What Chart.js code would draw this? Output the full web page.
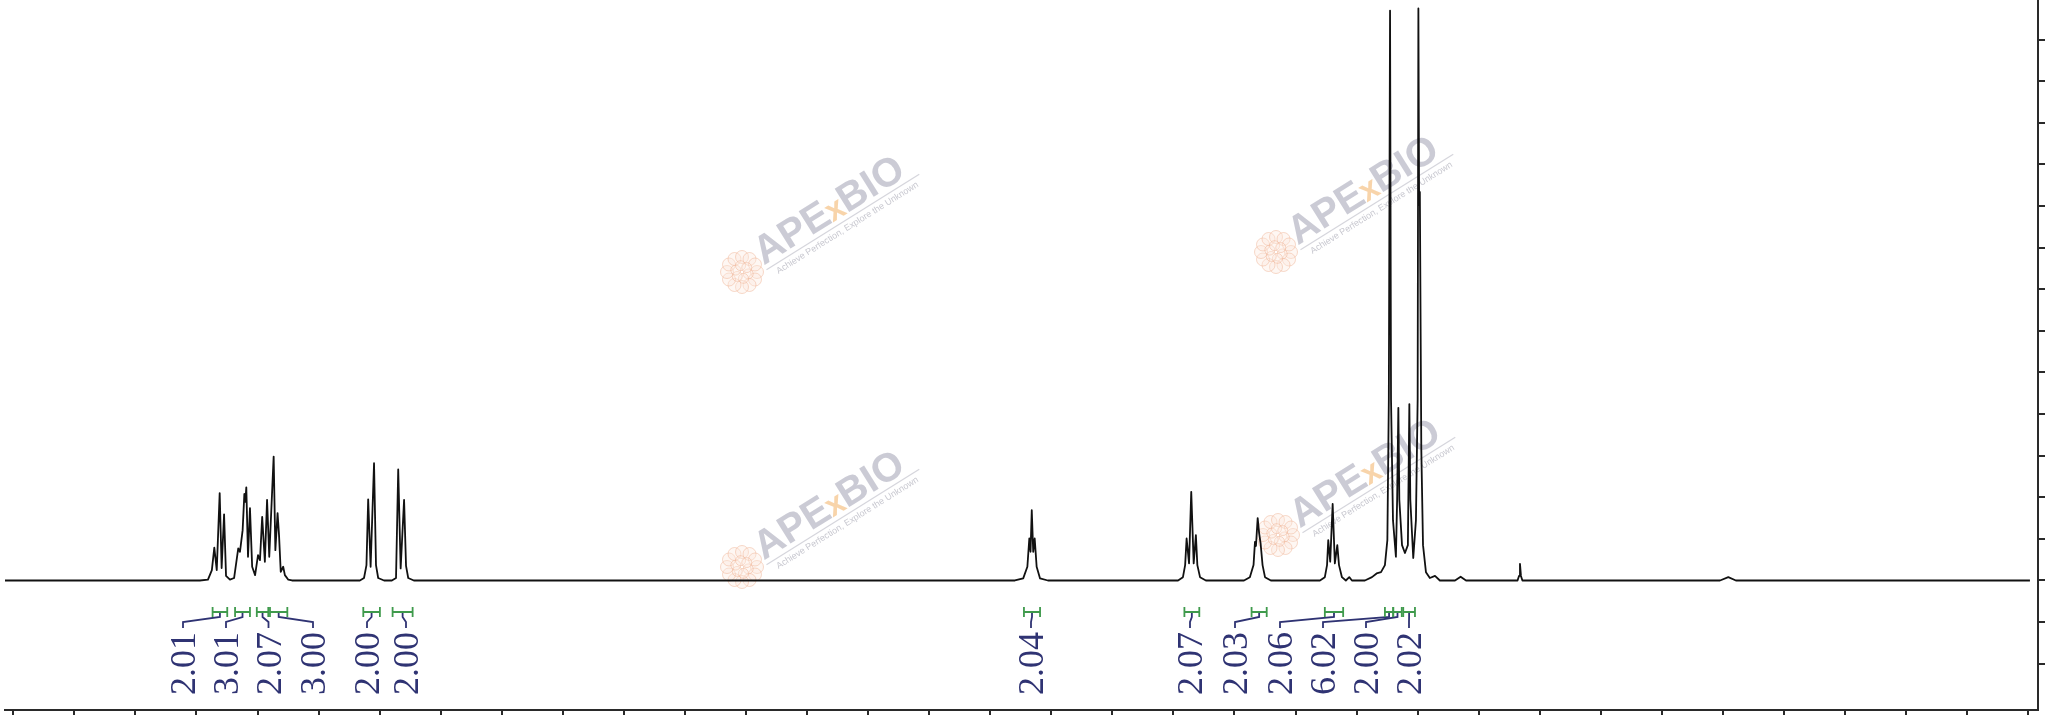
<!DOCTYPE html>
<html>
<head>
<meta charset="utf-8">
<script src="https://cdn.jsdelivr.net/npm/chart.js@4.4.1/dist/chart.umd.min.js"></script>
<style>
  html, body { margin: 0; padding: 0; background: #ffffff; }
  #wrap { width: 2045px; height: 715px; }
</style>
</head>
<body>
<div id="wrap"><canvas id="c" width="2045" height="715"></canvas></div>
<script>
// ---------- DATA ----------
// chemical shift (ppm), left to right
const shiftPpm = [
  8.784, 7.986, 7.953, 7.937, 7.927, 7.917, 7.905, 7.897, 7.887, 7.879, 7.863,
  7.846, 7.829, 7.822, 7.811, 7.804, 7.800, 7.796, 7.789, 7.781, 7.772, 7.760,
  7.748, 7.740, 7.731, 7.720, 7.711, 7.702, 7.684, 7.677, 7.668, 7.662, 7.655,
  7.645, 7.638, 7.624, 7.609,
  7.331, 7.314, 7.304, 7.297, 7.287, 7.273, 7.265, 7.256, 7.232,
  7.200, 7.183, 7.174, 7.164, 7.150, 7.142, 7.133, 7.110,
  4.649, 4.615, 4.598, 4.590, 4.585, 4.580, 4.574, 4.568, 4.560, 4.546, 4.514,
  3.981, 3.961, 3.952, 3.946, 3.936, 3.927, 3.917, 3.908, 3.902, 3.891, 3.867,
  3.711, 3.687, 3.672, 3.666, 3.662, 3.655, 3.649, 3.643, 3.635, 3.625, 3.601,
  3.400, 3.380, 3.371, 3.366, 3.358, 3.348, 3.339, 3.329, 3.322, 3.310, 3.294, 3.280, 3.269,
  3.216, 3.187, 3.168, 3.150, 3.134, 3.124, 3.118, 3.113, 3.109, 3.101, 3.089,
  3.084, 3.079, 3.075, 3.064, 3.052, 3.040, 3.034, 3.030, 3.018, 3.007, 3.000,
  2.997, 2.994, 2.991, 2.985, 2.978, 2.966, 2.950, 2.929, 2.909,
  2.847, 2.824, 2.802,
  2.591, 2.585, 2.581, 2.577, 2.571,
  1.762, 1.728, 1.697, 0.493
];
// signal intensity (arbitrary units), same order
const intensity = [
  0, 0, 0.02, 0.25, 0.79, 0.25, 2.10, 0.30, 1.59, 0.11, 0.02,
  0.06, 0.77, 0.69, 1.21, 2.08, 1.89, 2.24, 0.57, 1.74, 0.33, 0.13,
  0.61, 0.49, 1.53, 0.45, 1.94, 0.57, 2.98, 0.73, 1.62, 1.09, 0.21,
  0.33, 0.13, 0.02, 0,
  0, 0.06, 0.37, 1.95, 0.33, 2.82, 0.37, 0.06, 0,
  0, 0.06, 2.67, 0.29, 1.94, 0.35, 0.06, 0,
  0, 0.05, 0.33, 1.01, 0.69, 1.69, 0.69, 1.01, 0.33, 0.05, 0,
  0, 0.08, 0.37, 1.01, 0.41, 2.13, 0.41, 1.09, 0.37, 0.08, 0,
  0, 0.08, 0.37, 0.93, 0.83, 1.50, 1.14, 0.89, 0.37, 0.08, 0,
  0, 0.08, 0.37, 0.97, 0.45, 1.84, 0.41, 0.85, 0.37, 0.08, 0, 0.08, 0,
  0, 0.08, 0.17, 0.20, 0.37, 0.97, 4.34, 13.70, 4.34, 1.45, 0.57,
  1.94, 4.15, 1.94, 0.85, 0.66, 0.85, 4.24, 1.94, 0.54, 1.45, 4.34,
  13.75, 9.03, 9.34, 3.14, 0.85, 0.20, 0.06, 0.11, 0,
  0, 0.09, 0,
  0, 0.11, 0.40, 0.11, 0,
  0, 0.08, 0, 0
];
// integral regions (ppm) and their values
const integralFrom   = [7.934, 7.842, 7.753, 7.699, 7.317, 7.197, 4.612, 3.955, 3.680, 3.380, 3.134, 3.100, 3.059];
const integralTo     = [7.874, 7.781, 7.706, 7.628, 7.249, 7.115, 4.546, 3.894, 3.618, 3.305, 3.100, 3.065, 3.011];
const integralLabels = ['2.01', '3.01', '2.07', '3.00', '2.00', '2.00', '2.04', '2.07', '2.03', '2.06', '6.02', '2.00', '2.02'];
// axis tick values
const xTickValues = [8.75, 8.5, 8.25, 8.0, 7.75, 7.5, 7.25, 7.0, 6.75, 6.5, 6.25, 6.0, 5.75, 5.5, 5.25, 5.0,
  4.75, 4.5, 4.25, 4.0, 3.75, 3.5, 3.25, 3.0, 2.75, 2.5, 2.25, 2.0, 1.75, 1.5, 1.25, 1.0, 0.75, 0.5];
const yTickValues = [-2, -1, 0, 1, 2, 3, 4, 5, 6, 7, 8, 9, 10, 11, 12, 13];

// ---------- LAYOUT / STYLE ----------
const integralLabelPx = [183, 226, 268.5, 313, 367, 406, 1031, 1190, 1235, 1280, 1323, 1366, 1409];
const BRACKET_Y = 612, LABEL_END_Y = 632;
const GREEN = '#3f9a4c', NAVY = '#2f3373', AXIS = '#2a2a2a';
const logoCenters = [[742, 272], [1276, 252], [742, 567], [1278, 535]];

const watermarkPlugin = {
  id: 'watermark',
  beforeDatasetsDraw(chart) {
    const ctx = chart.ctx;
    logoCenters.forEach(([fx, fy]) => {
      ctx.save();
      ctx.translate(fx, fy);
      // flower
      ctx.lineWidth = 1;
      ctx.strokeStyle = 'rgba(240,180,150,0.5)';
      ctx.fillStyle = 'rgba(252,232,220,0.35)';
      for (let k = 0; k < 12; k++) {
        const a = k * Math.PI / 6;
        ctx.beginPath(); ctx.arc(15 * Math.cos(a), 15 * Math.sin(a), 6.5, 0, 2 * Math.PI); ctx.fill(); ctx.stroke();
      }
      for (let k = 0; k < 6; k++) {
        const a = k * Math.PI / 3 + 0.3;
        ctx.beginPath(); ctx.arc(6.5 * Math.cos(a), 6.5 * Math.sin(a), 5, 0, 2 * Math.PI); ctx.fill(); ctx.stroke();
      }
      ctx.rotate(-32 * Math.PI / 180);
      ctx.textBaseline = 'alphabetic';
      ctx.textAlign = 'left';
      let x = 22;
      const parts = [['APE', 'rgba(190,190,202,0.8)', 40], ['x', 'rgba(247,205,155,0.85)', 32], ['BIO', 'rgba(190,190,202,0.8)', 40]];
      parts.forEach(([t, c, fs]) => {
        ctx.fillStyle = c;
        ctx.font = 'bold ' + fs + 'px "Liberation Sans", Arial, sans-serif';
        ctx.fillText(t, x, 6);
        x += ctx.measureText(t).width - 1;
      });
      ctx.strokeStyle = 'rgba(195,195,205,0.7)';
      ctx.lineWidth = 1.2;
      ctx.beginPath(); ctx.moveTo(22, 11); ctx.lineTo(x + 12, 11); ctx.stroke();
      ctx.fillStyle = 'rgba(185,185,195,0.8)';
      ctx.font = '9px "Liberation Sans", Arial, sans-serif';
      ctx.fillText('Achieve Perfection, Explore the Unknown', 30, 21);
      ctx.restore();
    });
  }
};

const integralPlugin = {
  id: 'integrals',
  afterDatasetsDraw(chart) {
    const ctx = chart.ctx;
    const xs = chart.scales.x;
    ctx.save();
    integralLabels.forEach((lab, i) => {
      const x1 = xs.getPixelForValue(integralFrom[i]);
      const x2 = xs.getPixelForValue(integralTo[i]);
      const cx = (x1 + x2) / 2;
      const lx = integralLabelPx[i];
      // leader line
      ctx.strokeStyle = NAVY;
      ctx.lineWidth = 1.8;
      ctx.beginPath();
      ctx.moveTo(cx, BRACKET_Y + 1);
      ctx.lineTo(cx, BRACKET_Y + 5);
      ctx.lineTo(lx, BRACKET_Y + 10);
      ctx.lineTo(lx, BRACKET_Y + 16);
      ctx.stroke();
      // green bracket
      ctx.strokeStyle = GREEN;
      ctx.lineWidth = 1.8;
      ctx.beginPath();
      ctx.moveTo(x1, BRACKET_Y); ctx.lineTo(x2, BRACKET_Y);
      ctx.moveTo(x1, BRACKET_Y - 5); ctx.lineTo(x1, BRACKET_Y + 5);
      ctx.moveTo(x2, BRACKET_Y - 5); ctx.lineTo(x2, BRACKET_Y + 5);
      ctx.stroke();
      // value label (rotated)
      ctx.save();
      ctx.translate(lx, LABEL_END_Y);
      ctx.rotate(-Math.PI / 2);
      ctx.fillStyle = NAVY;
      ctx.font = '36px "Liberation Serif", "Times New Roman", serif';
      ctx.textAlign = 'right';
      ctx.textBaseline = 'alphabetic';
      ctx.fillText(lab, 0, 12);
      ctx.restore();
    });
    ctx.restore();
  }
};

const points = shiftPpm.map((p, i) => ({ x: p, y: intensity[i] }));

new Chart(document.getElementById('c'), {
  type: 'line',
  data: {
    datasets: [{
      data: points,
      borderColor: '#111111',
      borderWidth: 1.8,
      borderJoinStyle: 'round',
      pointRadius: 0,
      tension: 0,
      fill: false
    }]
  },
  options: {
    responsive: false,
    devicePixelRatio: 1,
    animation: false,
    layout: { padding: { left: 5, top: 0, right: 0, bottom: 0 } },
    plugins: { legend: { display: false }, tooltip: { enabled: false } },
    scales: {
      x: {
        type: 'linear',
        position: 'bottom',
        reverse: true,
        min: 0.460,
        max: 8.784,
        afterBuildTicks: (s) => { s.ticks = xTickValues.map(v => ({ value: v })); },
        ticks: { display: false },
        grid: { drawOnChartArea: false, drawTicks: true, tickLength: 5, color: AXIS, lineWidth: 2 },
        border: { display: true, color: AXIS, width: 2 }
      },
      y: {
        type: 'linear',
        position: 'right',
        min: -3.113,
        max: 13.954,
        afterBuildTicks: (s) => { s.ticks = yTickValues.map(v => ({ value: v })); },
        ticks: { display: false },
        grid: { drawOnChartArea: false, drawTicks: true, tickLength: 7, color: AXIS, lineWidth: 2 },
        border: { display: true, color: AXIS, width: 2 }
      }
    }
  },
  plugins: [watermarkPlugin, integralPlugin]
});
</script>
</body>
</html>
